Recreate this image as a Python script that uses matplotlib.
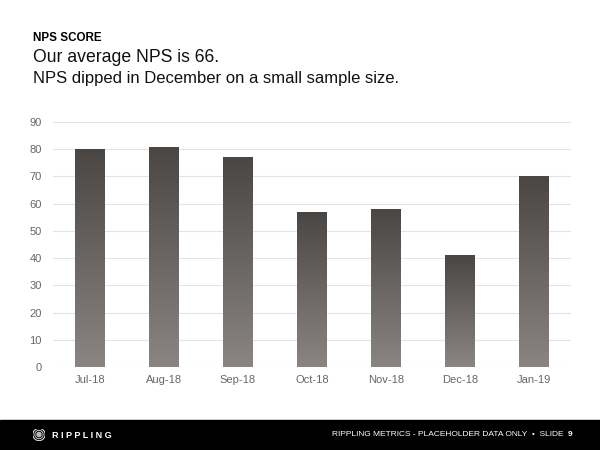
import matplotlib
matplotlib.use("Agg")
import matplotlib.pyplot as plt
import numpy as np
from matplotlib.colors import LinearSegmentedColormap
from matplotlib.patches import Circle, Rectangle

months = ["Jul-18", "Aug-18", "Sep-18", "Oct-18", "Nov-18", "Dec-18", "Jan-19"]
nps = [80, 81, 77, 57, 58, 41, 70]
yticks = [0, 10, 20, 30, 40, 50, 60, 70, 80, 90]

plt.rcParams['font.family'] = ['Liberation Sans', 'DejaVu Sans']

fig = plt.figure(figsize=(6, 4.5), dpi=100)
ax = fig.add_axes([53/600, 1-367/450, (571-53)/600, (367-122)/450])

cmap = LinearSegmentedColormap.from_list("g", ["#8a8583", "#4a4644"])
grad = np.linspace(0, 1, 256).reshape(-1, 1)
x = np.arange(len(months))
bars = ax.bar(x, nps, width=0.4, color="none", zorder=2)
for b in bars:
    x0, y0, w, h = b.get_x(), b.get_y(), b.get_width(), b.get_height()
    im = ax.imshow(grad, cmap=cmap, origin="lower", aspect="auto",
                   extent=[x0, x0 + w, y0, y0 + h], zorder=2)
    im.set_clip_path(b)

ax.set_xlim(-0.5, 6.5)
ax.set_ylim(0, 90)
ax.set_yticks(yticks)
ax.set_xticks(x)
ax.set_xticklabels(months)
for s in ax.spines.values():
    s.set_visible(False)
ax.grid(axis="y", color="#e4e4e4", linewidth=0.8, zorder=0)
ax.set_axisbelow(True)
ax.tick_params(axis="both", length=0, labelsize=8, colors="#666666")
ax.tick_params(axis="x", pad=6)
ax.tick_params(axis="y", pad=8)

fig.text(33/600, 1-38/450, "NPS SCORE", fontsize=8.4, fontweight="bold", color="#000000", va="center")
fig.text(33/600, 1-58/450, "Our average NPS is 66.", fontsize=12.7, color="#111111", va="center")
fig.text(33/600, 1-79/450, "NPS dipped in December on a small sample size.", fontsize=12.0, color="#111111", va="center")

# footer
fig.patches.append(Rectangle((0, 0), 1, 30/450, transform=fig.transFigure, color="#000000", zorder=0))
lax = fig.add_axes([33/600, 1-440.5/450, 12/600, 12/450], zorder=3)
lax.set_xlim(-1, 1); lax.set_ylim(-1, 1); lax.set_aspect("equal"); lax.axis("off")
for r, c in [(1.0, "#dddddd"), (0.82, "#000000"), (0.66, "#cccccc"), (0.5, "#000000"), (0.34, "#bbbbbb")]:
    lax.add_patch(Circle((0, 0), r, color=c))
fig.text(52/600, 1-435/450, "R I P P L I N G", fontsize=6.5, fontweight="bold", color="white", va="center")
fig.text(563/600, 1-435/450, "RIPPLING METRICS - PLACEHOLDER DATA ONLY  •  SLIDE", fontsize=6, color="white", va="center", ha="right")
fig.text(568/600, 1-435/450, "9", fontsize=6, fontweight="bold", color="white", va="center", ha="left")

fig.savefig("out.png", dpi=100)
